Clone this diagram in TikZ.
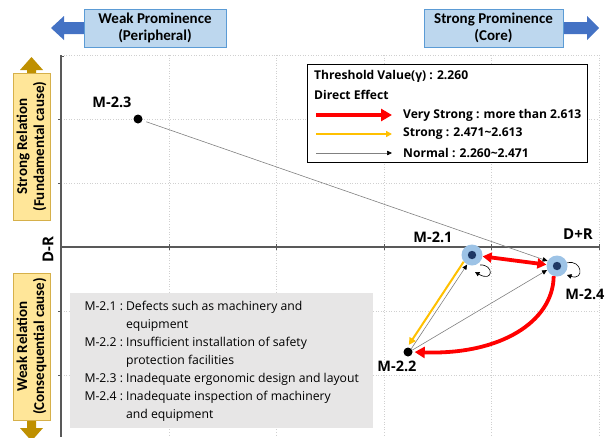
\documentclass[tikz,border=0pt]{standalone}
\usepackage{fontspec}
\setmainfont{Open Sans}
\newfontfamily\carl{Carlito}
\usetikzlibrary{arrows.meta}
\definecolor{gridgray}{HTML}{D0D0D0}
\definecolor{axisgray}{HTML}{595959}
\definecolor{promofill}{HTML}{BDD7EE}
\definecolor{promoborder}{HTML}{5B9BD5}
\definecolor{promoarrow}{HTML}{4472C4}
\definecolor{relfill}{HTML}{FFE699}
\definecolor{relborder}{HTML}{D6B04A}
\definecolor{relarrow}{HTML}{BF9000}
\definecolor{dotblue}{HTML}{9DC3E6}
\definecolor{dotnavy}{HTML}{1F3864}
\definecolor{linegray}{HTML}{808080}
\definecolor{strongyellow}{HTML}{FFC000}
\definecolor{vsred}{HTML}{FF0000}
\definecolor{descfill}{HTML}{E7E6E6}
\tikzset{
  gridline/.style={draw=gridgray, dotted, line width=0.6pt},
  axisline/.style={draw=axisgray, line width=1.5pt},
  ticklines/.style={draw=axisgray, line width=1pt},
  promobox/.style={draw=promoborder, fill=promofill, line width=0.8pt, minimum width=142pt, minimum height=38pt, align=center, inner sep=0pt, font=\carl\bfseries\fontsize{15}{17}\selectfont},
  relbox/.style={draw=relborder, fill=relfill, line width=0.8pt, minimum width=147pt, minimum height=37pt, rotate=90, align=center, inner sep=0pt, font=\carl\bfseries\fontsize{15}{17}\selectfont},
  bluedot/.style={circle, fill=dotblue, minimum size=21pt, inner sep=0pt, path picture={\fill[dotnavy] (path picture bounding box.center) circle (4.2pt);}},
  blackdot/.style={circle, fill=black, minimum size=9pt, inner sep=0pt},
  lbl/.style={font=\bfseries\fontsize{14.5}{16}\selectfont, inner sep=0pt},
  legtext/.style={font=\bfseries\fontsize{12.1}{14}\selectfont, inner sep=0pt, anchor=west},
  normalarr/.style={draw=linegray, line width=0.6pt, -{Triangle[length=5pt, width=4.5pt, color=black]}},
  strongarr/.style={draw=strongyellow, line width=2pt, -{Triangle[length=7pt, width=7pt]}},
  vsarr/.style={draw=vsred, line width=3.8pt, -{Triangle[length=10pt, width=11pt]}},
  loopline/.style={draw=black, line width=0.6pt, -{Triangle[length=4.5pt, width=4.5pt]}},
  descbox/.style={fill=descfill, minimum width=303pt, minimum height=135pt, inner sep=0pt, anchor=north west, font=\fontsize{12.2}{18}\selectfont}
}
\begin{document}
\begin{tikzpicture}[x=1pt,y=-1pt]
\useasboundingbox (0,0) rectangle (605,437);
% grid
\foreach \yy in {55,119,183,311,375} \draw[gridline] (61,\yy) -- (599,\yy);
\foreach \xx in {169,276,384,491,599} \draw[gridline] (\xx,55) -- (\xx,437);
% axes
\draw[axisline] (61,55) -- (61,437);
\draw[axisline] (61,247) -- (599,247);
\draw[ticklines] (61,56) -- (64,56);
\foreach \yy in {119,183,311,375} \draw[ticklines] (58,\yy) -- (61,\yy);
\foreach \xx in {169,276,384,491,599} \draw[ticklines] (\xx,244) -- (\xx,250);
% prominence arrows and boxes
\fill[promoarrow] (51,28) -- (64,16) -- (64,22) -- (86,22) -- (86,34) -- (64,34) -- (64,40) -- cycle;
\fill[promoarrow] (599,28) -- (587,16) -- (587,22) -- (561,22) -- (561,34) -- (587,34) -- (587,40) -- cycle;
\node[promobox] (weakp) at (155,28) {Weak Prominence\\(Peripheral)};
\node[promobox, minimum width=139pt] (strongp) at (493.5,28) {Strong Prominence\\(Core)};
% relation arrows and boxes
\fill[relarrow] (31.5,57) -- (43,70) -- (36,70) -- (36,75) -- (27,75) -- (27,70) -- (20,70) -- cycle;
\fill[relarrow] (31.5,441) -- (43,428) -- (36,428) -- (36,418) -- (27,418) -- (27,428) -- (20,428) -- cycle;
\node[relbox] (strongr) at (31.5,146.5) {Strong Relation\\(Fundamental cause)};
\node[relbox] (weakr) at (31.5,346.5) {Weak Relation\\(Consequential cause)};
% axis labels
\node[lbl, font=\bfseries\fontsize{15}{17}\selectfont] (dpr) at (578,234) {D+R};
\node[lbl, font=\bfseries\fontsize{15}{17}\selectfont, rotate=90] (dmr) at (48,250) {D-R};
% legend
\node[draw=black, line width=0.9pt, fill=white, minimum width=280pt, minimum height=98pt, anchor=north west, inner sep=0pt] (legend) at (307,64) {};
\node[legtext] (thr) at (314,76) {Threshold Value(γ) : 2.260};
\node[legtext] (de) at (314,95) {Direct Effect};
\coordinate (lra) at (316,115); \coordinate (lrb) at (392,115);
\coordinate (lya) at (316,134); \coordinate (lyb) at (392,134);
\coordinate (lga) at (316,153); \coordinate (lgb) at (392,153);
\draw[vsarr, line width=4.2pt, -{Triangle[length=11pt, width=12pt]}] (lra) -- (lrb);
\draw[strongarr, -{Triangle[length=6pt, width=6pt]}] (lya) -- (lyb);
\draw[normalarr] (lga) -- (lgb);
\node[legtext] (lt1) at (403,115) {Very Strong : more than 2.613};
\node[legtext] (lt2) at (403,134) {Strong : 2.471\textasciitilde 2.613};
\node[legtext] (lt3) at (403,153) {Normal : 2.260\textasciitilde 2.471};
% description box
\node[descbox] (desc) at (70,293) {\begin{tabular}{@{}l@{\hspace{3pt}}l@{}}
M-2.1 : & Defects such as machinery and\\
 & equipment\\
M-2.2 : & Insufficient installation of safety\\
 & protection facilities\\
M-2.3 : & Inadequate ergonomic design and layout\\
M-2.4 : & Inadequate inspection of machinery\\
 & and equipment
\end{tabular}};
% factor nodes
\node[blackdot] (m23) at (138,119) {};
\node[bluedot] (m21) at (472,255) {};
\node[bluedot] (m24) at (557,266) {};
\node[blackdot] (m22) at (408,352) {};
\node[lbl] (l23) at (112,102) {M-2.3};
\node[lbl] (l21) at (433,237) {M-2.1};
\node[lbl] (l24) at (585,294) {M-2.4};
\node[lbl] (l22) at (397,366) {M-2.2};
% connectors
\draw[normalarr, shorten <=4pt] (m23.342) -- (m24.152);
\draw[normalarr] (m22.45) -- (m21.243);
\draw[normalarr] (m22.24) -- (m24.202);
\draw[strongarr, shorten >=3pt] (m21.219) -- (m22.100);
\draw[vsarr, {Triangle[length=9pt, width=10pt]}-{Triangle[length=9pt, width=10pt]}] (m21) -- (m24);
\draw[vsarr, shorten >=2pt] (m24.252) .. controls (553,322) and (500,355) .. (m22.east);
% self loops
\draw[loopline] ([shift={(8,10)}]m21.center) .. controls ([shift={(22,9)}]m21.center) and ([shift={(22,28)}]m21.center) .. ([shift={(3,17)}]m21.center);
\draw[loopline] (m24.17) .. controls ([shift={(25,-7)}]m24.center) and ([shift={(28,15)}]m24.center) .. ([shift={(10,9)}]m24.center);
\end{tikzpicture}
\end{document}
